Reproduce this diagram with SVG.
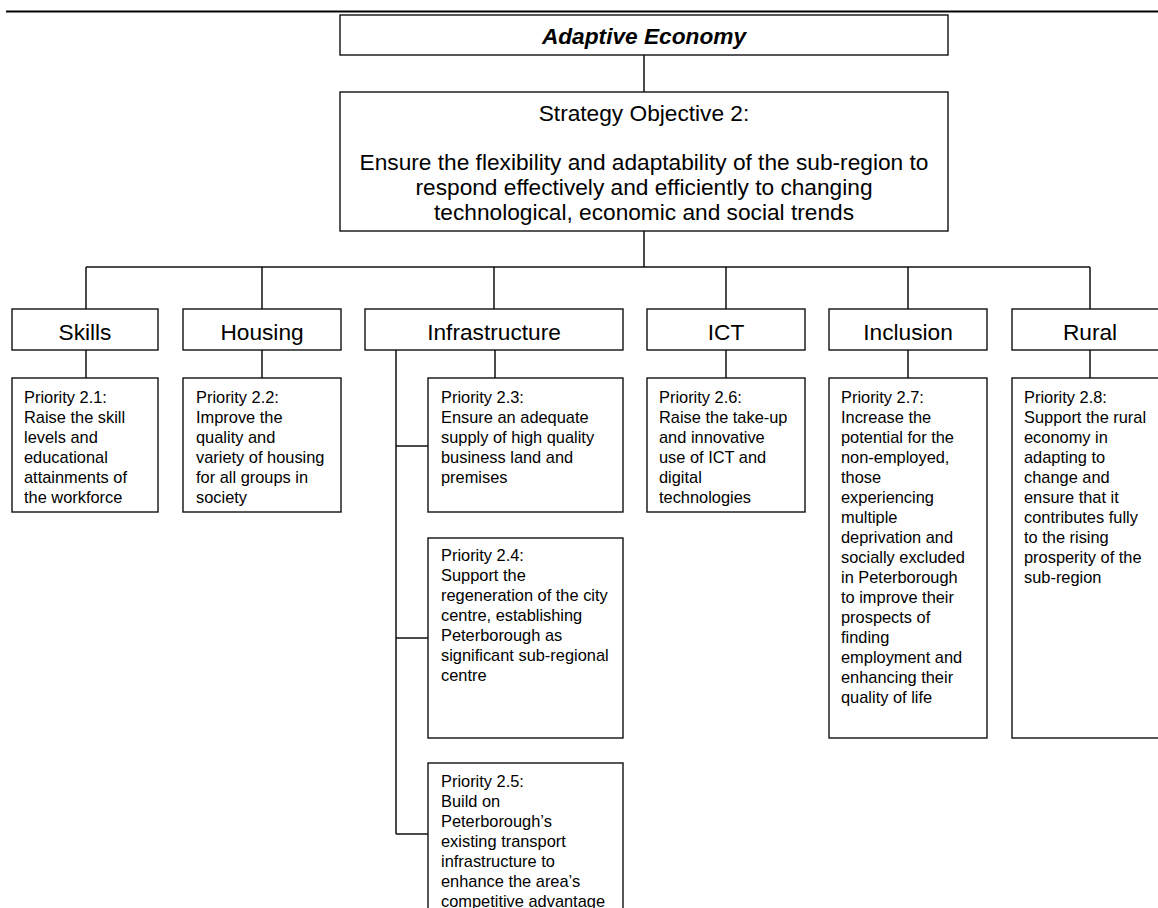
<svg xmlns="http://www.w3.org/2000/svg" width="1158" height="908" viewBox="0 0 1158 908">
<style>
.box{fill:#fff;stroke:#111;stroke-width:1.4}
.ln{fill:none;stroke:#111;stroke-width:1.5}
.hd{font-family:"Liberation Sans",Arial,sans-serif;font-size:22.7px;fill:#000;text-anchor:middle}
.tt{font-family:"Liberation Sans",Arial,sans-serif;font-size:22.7px;fill:#000;text-anchor:middle;font-weight:bold;font-style:italic}
.pt{font-family:"Liberation Sans",Arial,sans-serif;font-size:16.4px;fill:#000}
</style>
<rect width="1158" height="908" fill="#fff"/>
<line x1="6" y1="11.5" x2="1158" y2="11.5" stroke="#000" stroke-width="2"/>
<g id="connectors">
<path class="ln" d="M644 55V92M644 231V267M86 267H1090M86 267V309M262 267V309M494 267V309M726 267V309M908 267V309M1090 267V309"/>
<path class="ln" d="M86 350V378M262 350V378M495 350V378M726 350V378M908 350V378M1090 350V378"/>
<path class="ln" d="M396 350V834M396 446H428M396 638H428M396 834H428"/>
</g>
<g id="title">
<rect class="box" x="340" y="15" width="608" height="40"/>
<text class="tt" x="644" y="44">Adaptive Economy</text>
</g>
<g id="objective">
<rect class="box" x="340" y="92" width="608" height="139"/>
<text class="hd" x="644" y="121">Strategy Objective 2:</text>
<text class="hd" x="644" y="170">Ensure the flexibility and adaptability of the sub-region to</text>
<text class="hd" x="644" y="195">respond effectively and efficiently to changing</text>
<text class="hd" x="644" y="220">technological, economic and social trends</text>
</g>
<g id="skills"><rect class="box" x="12" y="309" width="146" height="41"/><text class="hd" x="85" y="340">Skills</text></g>
<g id="housing"><rect class="box" x="183" y="309" width="158" height="41"/><text class="hd" x="262" y="340">Housing</text></g>
<g id="infrastructure"><rect class="box" x="365" y="309" width="258" height="41"/><text class="hd" x="494" y="340">Infrastructure</text></g>
<g id="ict"><rect class="box" x="647" y="309" width="158" height="41"/><text class="hd" x="726" y="340">ICT</text></g>
<g id="inclusion"><rect class="box" x="829" y="309" width="158" height="41"/><text class="hd" x="908" y="340">Inclusion</text></g>
<g id="rural"><rect class="box" x="1012" y="309" width="160" height="41"/><text class="hd" x="1090" y="340">Rural</text></g>
<g id="p21"><rect class="box" x="12" y="378" width="146" height="134"/>
<text class="pt" x="24" y="402.5"><tspan x="24">Priority 2.1:</tspan><tspan x="24" dy="20">Raise the skill</tspan><tspan x="24" dy="20">levels and</tspan><tspan x="24" dy="20">educational</tspan><tspan x="24" dy="20">attainments of</tspan><tspan x="24" dy="20">the workforce</tspan></text></g>
<g id="p22"><rect class="box" x="183" y="378" width="158" height="134"/>
<text class="pt" x="196" y="402.5"><tspan x="196">Priority 2.2:</tspan><tspan x="196" dy="20">Improve the</tspan><tspan x="196" dy="20">quality and</tspan><tspan x="196" dy="20">variety of housing</tspan><tspan x="196" dy="20">for all groups in</tspan><tspan x="196" dy="20">society</tspan></text></g>
<g id="p23"><rect class="box" x="428" y="378" width="195" height="134"/>
<text class="pt" x="441" y="402.5"><tspan x="441">Priority 2.3:</tspan><tspan x="441" dy="20">Ensure an adequate</tspan><tspan x="441" dy="20">supply of high quality</tspan><tspan x="441" dy="20">business land and</tspan><tspan x="441" dy="20">premises</tspan></text></g>
<g id="p24"><rect class="box" x="428" y="538" width="195" height="200"/>
<text class="pt" x="441" y="561"><tspan x="441">Priority 2.4:</tspan><tspan x="441" dy="20">Support the</tspan><tspan x="441" dy="20">regeneration of the city</tspan><tspan x="441" dy="20">centre, establishing</tspan><tspan x="441" dy="20">Peterborough as</tspan><tspan x="441" dy="20">significant sub-regional</tspan><tspan x="441" dy="20">centre</tspan></text></g>
<g id="p25"><rect class="box" x="428" y="763" width="195" height="160"/>
<text class="pt" x="441" y="786.5"><tspan x="441">Priority 2.5:</tspan><tspan x="441" dy="20">Build on</tspan><tspan x="441" dy="20">Peterborough’s</tspan><tspan x="441" dy="20">existing transport</tspan><tspan x="441" dy="20">infrastructure to</tspan><tspan x="441" dy="20">enhance the area’s</tspan><tspan x="441" dy="20">competitive advantage</tspan></text></g>
<g id="p26"><rect class="box" x="647" y="378" width="158" height="134"/>
<text class="pt" x="659" y="402.5"><tspan x="659">Priority 2.6:</tspan><tspan x="659" dy="20">Raise the take-up</tspan><tspan x="659" dy="20">and innovative</tspan><tspan x="659" dy="20">use of ICT and</tspan><tspan x="659" dy="20">digital</tspan><tspan x="659" dy="20">technologies</tspan></text></g>
<g id="p27"><rect class="box" x="829" y="378" width="158" height="360"/>
<text class="pt" x="841" y="402.5"><tspan x="841">Priority 2.7:</tspan><tspan x="841" dy="20">Increase the</tspan><tspan x="841" dy="20">potential for the</tspan><tspan x="841" dy="20">non-employed,</tspan><tspan x="841" dy="20">those</tspan><tspan x="841" dy="20">experiencing</tspan><tspan x="841" dy="20">multiple</tspan><tspan x="841" dy="20">deprivation and</tspan><tspan x="841" dy="20">socially excluded</tspan><tspan x="841" dy="20">in Peterborough</tspan><tspan x="841" dy="20">to improve their</tspan><tspan x="841" dy="20">prospects of</tspan><tspan x="841" dy="20">finding</tspan><tspan x="841" dy="20">employment and</tspan><tspan x="841" dy="20">enhancing their</tspan><tspan x="841" dy="20">quality of life</tspan></text></g>
<g id="p28"><rect class="box" x="1012" y="378" width="160" height="360"/>
<text class="pt" x="1024" y="402.5"><tspan x="1024">Priority 2.8:</tspan><tspan x="1024" dy="20">Support the rural</tspan><tspan x="1024" dy="20">economy in</tspan><tspan x="1024" dy="20">adapting to</tspan><tspan x="1024" dy="20">change and</tspan><tspan x="1024" dy="20">ensure that it</tspan><tspan x="1024" dy="20">contributes fully</tspan><tspan x="1024" dy="20">to the rising</tspan><tspan x="1024" dy="20">prosperity of the</tspan><tspan x="1024" dy="20">sub-region</tspan></text></g>
</svg>
